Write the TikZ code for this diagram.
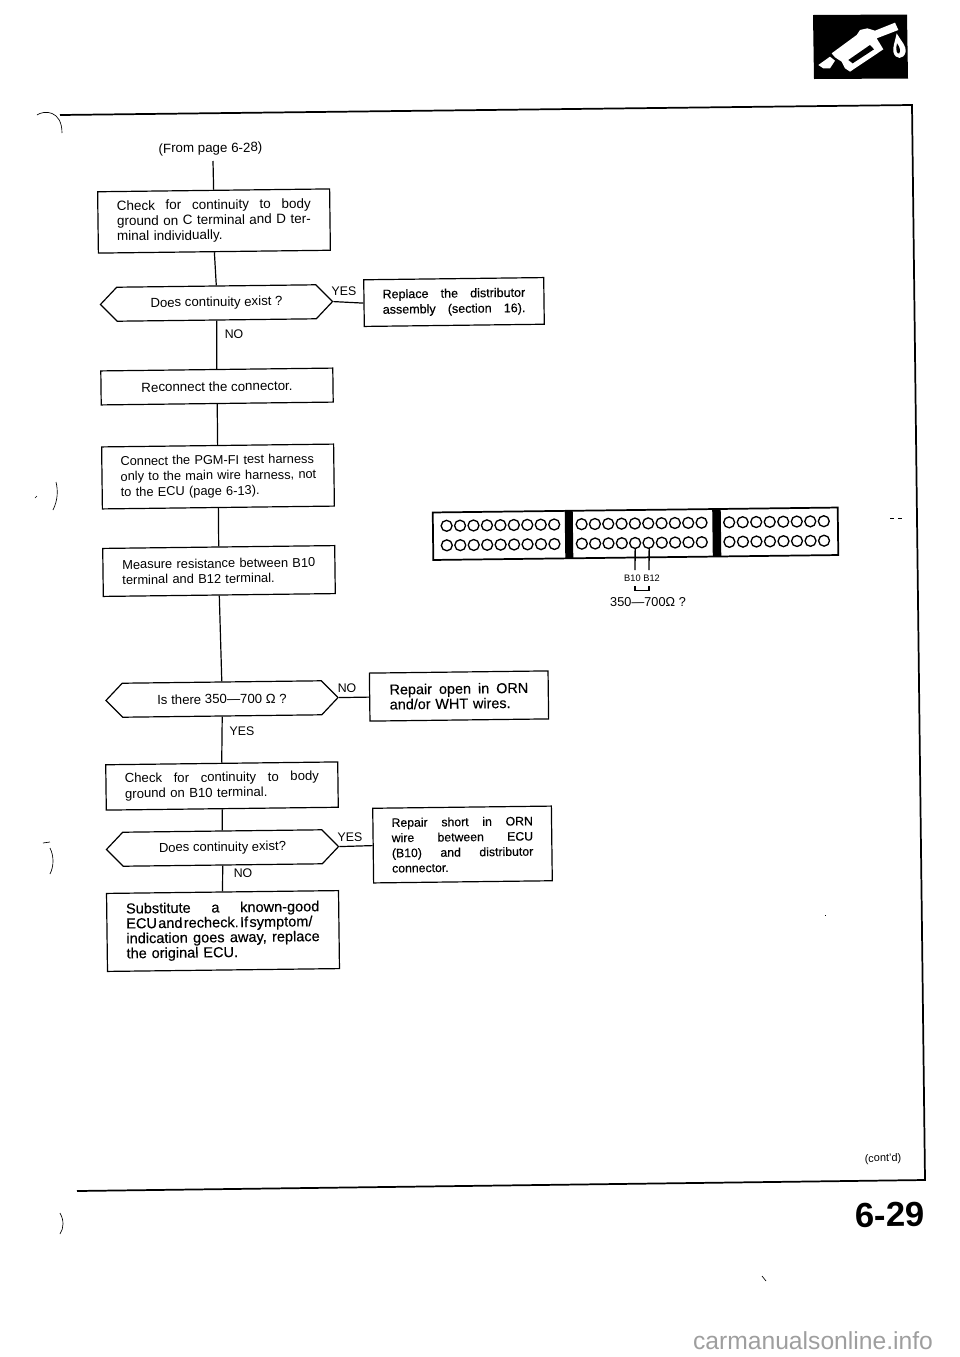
\documentclass[tikz,border=0pt]{standalone}
\usepackage{fontspec}
\setmainfont{Liberation Sans}
\newfontfamily\medf[FakeBold=0.3]{Liberation Sans}
\usetikzlibrary{shapes.symbols}
\newcommand{\sline}[2]{\makebox[#1][l]{#2}}
\tikzset{
  tilt/.style={rotate=0.7,inner sep=0pt},
  boxnode/.style={tilt,draw=black,line width=0.9pt,fill=white,font=\fontsize{9.8}{11.4}\selectfont,align=left},
  hexnode/.style={tilt,draw=black,line width=0.9pt,shape=signal,signal to=west and east,signal pointer angle=92,
     minimum width=174pt,minimum height=25.5pt,font=\fontsize{9.9}{11.2}\selectfont},
  lbl/.style={tilt,font=\fontsize{9.3}{11}\selectfont},
  link/.style={draw=black,line width=0.9pt},
  frameline/.style={draw=black,line width=1.3pt},
  speck/.style={draw=black,line width=0.5pt},
  pinline/.style={draw=black,line width=1pt},
}
\begin{document}
\begin{tikzpicture}[x=0.75pt,y=-0.75pt]
\useasboundingbox (0,0) rectangle (960,1357);
% frame
\coordinate (ftl) at (60,115);
\coordinate (ftr) at (912,105);
\coordinate (fbr) at (925,1180);
\coordinate (fbl) at (77,1191);
\draw[frameline] (ftl) -- (ftr) -- (fbr) -- (fbl);
\draw[speck] (37,115) .. controls (44,110) and (62,110) .. (62,133);
\draw[speck] (56,482) .. controls (58,490) and (58,500) .. (53,510);
\draw[speck] (37,496) -- (35,498);
\draw[speck] (50,842) -- (43,843);
\draw[speck] (50,848) .. controls (54,856) and (54,866) .. (50,874);
\draw[speck] (60,1213) .. controls (64,1220) and (64,1228) .. (60,1234);
\draw[speck] (890,518) -- (894,518) (898,518) -- (902,518);
\draw[speck] (825,915) -- (826,915);
\draw[speck] (762,1276) -- (766,1281);
% fuel icon
\fill[black] (813,15) -- (907,14.5) -- (908,78.5) -- (814,79) -- cycle;
\begin{scope}[shift={(780,0)},x=0.25pt,y=-0.25pt]
\fill[white] (155,160) -- (230,105) -- (240,90) -- (262,85) -- (285,92) -- (345,68) -- (355,90) -- (290,115) -- (310,148) -- (210,215) -- (195,205) -- (185,185) -- (165,172) -- cycle;
\fill[white] (115,195) -- (150,170) -- (165,182) -- (150,205) -- (130,205) -- cycle;
\fill[black] (205,180) -- (270,135) -- (282,148) -- (218,190) -- cycle;
\fill[white] (350,100) .. controls (365,125) and (380,140) .. (377,155) .. controls (372,180) and (345,180) .. (340,155) .. controls (338,140) and (345,125) .. (350,100) -- cycle;
\fill[black] (351,130) .. controls (358,140) and (363,150) .. (358,160) .. controls (352,165) and (345,150) .. (351,130) -- cycle;
\end{scope}
% flowchart
\node[lbl,font=\fontsize{10}{11}\selectfont] (from) at (210.5,149) {(From page 6-28)};
\coordinate (c0) at (213,161);
\node[boxnode,minimum width=174pt,minimum height=46pt,text width=145.5pt,font=\fontsize{10.1}{11.4}\selectfont] (b1) at (214,221) {\sline{145.5pt}{Check\hfill for\hfill continuity\hfill to\hfill body}\\ground on C terminal and D ter-\\minal individually.};
\node[hexnode] (h1) at (216.5,303) {Does continuity exist ?};
\node[boxnode,minimum width=135pt,minimum height=35pt,text width=107pt,font=\medf\fontsize{9.4}{11.5}\selectfont] (b2) at (454,302) {\sline{107pt}{Replace\hfill the\hfill distributor}\\\sline{107pt}{assembly\hfill (section\hfill 16).}};
\node[boxnode,minimum width=174pt,minimum height=25.5pt,align=center,font=\fontsize{10}{11.4}\selectfont] (b3) at (217,386.5) {Reconnect the connector.};
\node[boxnode,minimum width=174pt,minimum height=46.5pt,text width=146pt,font=\fontsize{9.6}{11.6}\selectfont] (b4) at (218,476.5) {\sline{146pt}{Connect the PGM-FI test harness}\\\sline{146pt}{only to the main wire harness, not}\\\sline{146pt}{to the ECU (page 6-13).}};
\node[boxnode,minimum width=174pt,minimum height=36pt,text width=145pt,font=\fontsize{9.65}{11.4}\selectfont] (b5) at (219,571) {Measure resistance between B10\\terminal and B12 terminal.};
\node[hexnode] (h2) at (222,699) {Is there 350—700 \symbol{"03A9} ?};
\node[boxnode,minimum width=134pt,minimum height=36pt,text width=104pt,font=\medf\fontsize{10.8}{11.2}\selectfont] (b6) at (459,696) {\sline{104pt}{Repair\hfill open\hfill in\hfill ORN}\\and/or WHT wires.};
\node[boxnode,minimum width=174pt,minimum height=34pt,text width=145.5pt,font=\fontsize{9.85}{11.4}\selectfont] (b7) at (222,786) {\sline{145.5pt}{Check\hfill for\hfill continuity\hfill to\hfill body}\\ground on B10 terminal.};
\node[hexnode,font=\fontsize{9.8}{11.2}\selectfont] (h3) at (222.5,848) {Does continuity exist?};
\node[boxnode,minimum width=134pt,minimum height=56pt,text width=106pt,font=\medf\fontsize{9.2}{11.4}\selectfont] (b8) at (462.5,844.5) {\sline{106pt}{Repair\hfill short\hfill in\hfill ORN}\\\sline{106pt}{wire\hfill between\hfill ECU}\\\sline{106pt}{(B10)\hfill and\hfill distributor}\\connector.};
\node[boxnode,minimum width=174pt,minimum height=58.5pt,text width=145pt,font=\medf\fontsize{10.9}{11.2}\selectfont] (b9) at (223,931) {\sline{145pt}{Substitute\hfill a\hfill known-good}\\\sline{145pt}{ECU\kern1pt and\kern1pt recheck.\kern1pt If\kern1pt symptom/}\\\sline{145pt}{indication\hfill goes\hfill away,\hfill replace}\\the original ECU.};
\path[link] (c0) -- (b1.north);
\path[link] (b1.south) -- (h1.north);
\path[link] (h1.east) -- (b2.west);
\path[link] (h1.south) -- (b3.north);
\path[link] (b3.south) -- (b4.north);
\path[link] (b4.south) -- (b5.north);
\path[link] (b5.south) -- (h2.north);
\path[link] (h2.east) -- (b6.west);
\path[link] (h2.south) -- (b7.north);
\path[link] (b7.south) -- (h3.north);
\path[link] (h3.east) -- (b8.west);
\path[link] (h3.south) -- (b9.north);
\node[lbl] (yes1) at (344,291) {YES};
\node[lbl] (no1) at (234,334) {NO};
\node[lbl] (no2) at (347,688) {NO};
\node[lbl] (yes2) at (242,731) {YES};
\node[lbl] (yes3) at (350,837) {YES};
\node[lbl] (no3) at (243,873) {NO};
% connector illustration
\begin{scope}[rotate around={0.7:(635.5,533)}]
\draw[black,line width=1.3pt] (433,510) rectangle (838,557.5);
\fill[black] (565,510) rectangle (573,557.5);
\fill[black] (712.5,510) rectangle (721,557.5);
\foreach \yy in {523.5,543}{
  \foreach \i in {0,...,8}{\draw[pinline] ({446.7+13.45*\i},\yy) circle[radius=4.1pt];}
  \foreach \i in {0,...,9}{\draw[pinline] ({581.7+13.33*\i},\yy) circle[radius=4.1pt];}
  \foreach \i in {0,...,7}{\draw[pinline] ({729.3+13.52*\i},\yy) circle[radius=4.1pt];}
}
\coordinate (p10) at (635,548);
\coordinate (p12) at (649,548);
\end{scope}
\coordinate (w10) at (635,570);
\coordinate (w12) at (649,570);
\coordinate (k10) at (635,590.5);
\coordinate (k12) at (649,590.5);
\draw[pinline] (p10) -- (w10);
\draw[pinline] (p12) -- (w12);
\node[tilt,font=\fontsize{7}{8}\selectfont] (lb) at (642,578) {B10 B12};
\draw[pinline] (635,586) -- (k10) -- (k12) -- (649,586);
\node[tilt,font=\fontsize{9.6}{11}\selectfont] (val) at (648,602) {350—700\symbol{"03A9} ?};
% page furniture
\node[tilt,font=\fontsize{8.2}{10}\selectfont] (cont) at (883,1159) {(cont'd)};
\node[tilt,font=\bfseries\fontsize{26}{28}\selectfont] (pg) at (890,1215) {6-29};
\node[inner sep=0pt,text=black!38,font=\fontsize{18.5}{20}\selectfont] (wm) at (813,1341) {carmanualsonline.info};
\end{tikzpicture}
\end{document}
